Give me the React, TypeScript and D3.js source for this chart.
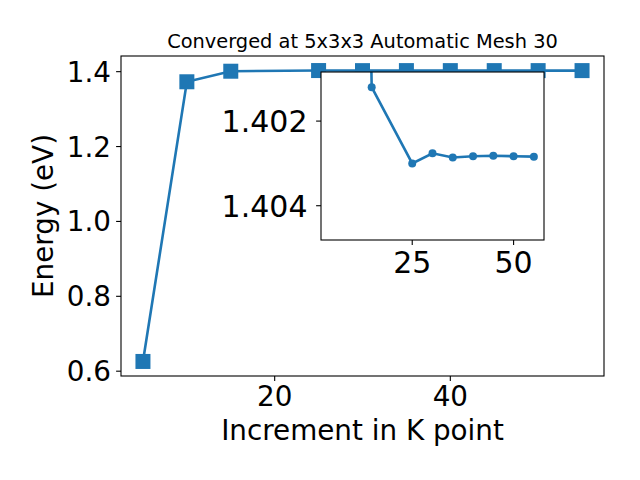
import React from "react";
import * as d3 from "d3";

// k-point increments and the converged energies
const kPoints = [5, 10, 15, 25, 30, 35, 40, 45, 50, 55];
const energies = [0.626, 1.373, 1.4012, 1.403, 1.40276, 1.40286, 1.40283, 1.40282, 1.40283, 1.40284];
const mainYTicks = [0.6, 0.8, 1.0, 1.2, 1.4];
const mainXTicks = [20, 40];
const insetYTicks = [1.402, 1.404];
const insetXTicks = [25, 50];
const insetYLimits = [1.40084, 1.40481];

const W = 640;
const H = 480;
const blue = "#1f77b4";
const font = "DejaVu Sans, sans-serif";
const tickFont = 27.8;
const insetFont = 30;

// main axes box
const mL = 121, mR = 604, mT = 56, mB = 376;
// inset axes box
const iL = 321, iR = 544, iT = 72, iB = 240;

const pad = (ext: [number, number]) => {
  const m = (ext[1] - ext[0]) * 0.05;
  return [ext[0] - m, ext[1] + m];
};

const App = () => {
  const xDom = pad(d3.extent(kPoints) as [number, number]);
  const yDom = pad(d3.extent(energies) as [number, number]);

  const x = d3.scaleLinear().domain(xDom).range([mL, mR]);
  const y = d3.scaleLinear().domain(yDom).range([mB, mT]);

  const xi = d3.scaleLinear().domain(xDom).range([iL, iR]);
  // inverted axis: smaller energies on top
  const yi = d3.scaleLinear().domain(insetYLimits).range([iT, iB]);

  const pts = kPoints.map((k, i) => [k, energies[i]] as [number, number]);

  const mainLine = d3.line<[number, number]>().x(d => x(d[0])).y(d => y(d[1]));
  const insetLine = d3.line<[number, number]>().x(d => xi(d[0])).y(d => yi(d[1]));

  const sq = 15;

  return (
    <svg width={W} height={H} style={{ position: "absolute", left: 0, top: 0, background: "#fff" }}
      fontFamily={font}>
      <defs>
        <clipPath id="insetClip">
          <rect x={iL} y={iT} width={iR - iL} height={iB - iT} />
        </clipPath>
      </defs>

      {/* main axes */}
      <path d={mainLine(pts) || ""} fill="none" stroke={blue} strokeWidth={2.6} />
      {pts.map((d, i) => (
        <rect key={i} x={x(d[0]) - sq / 2} y={y(d[1]) - sq / 2} width={sq} height={sq} fill={blue} />
      ))}
      <rect x={mL} y={mT} width={mR - mL} height={mB - mT} fill="none" stroke="#000" strokeWidth={1.1} />

      {mainXTicks.map(t => (
        <g key={t}>
          <line x1={x(t)} x2={x(t)} y1={mB} y2={mB + 4.9} stroke="#000" strokeWidth={1.1} />
          <text x={x(t)} y={405.5} fontSize={tickFont} textAnchor="middle">{d3.format("d")(t)}</text>
        </g>
      ))}
      {mainYTicks.map(t => (
        <g key={t}>
          <line x1={mL - 4.9} x2={mL} y1={y(t)} y2={y(t)} stroke="#000" strokeWidth={1.1} />
          <text x={mL - 10} y={y(t)} dy="0.36em" fontSize={tickFont} textAnchor="end">{d3.format(".1f")(t)}</text>
        </g>
      ))}

      <text x={(mL + mR) / 2} y={48} fontSize={19.4} textAnchor="middle">Converged at 5x3x3 Automatic Mesh 30</text>
      <text x={(mL + mR) / 2} y={440} fontSize={tickFont} textAnchor="middle">Increment in K point</text>
      <text transform={`translate(53,${(mT + mB) / 2}) rotate(-90)`} fontSize={tickFont} textAnchor="middle">Energy (eV)</text>

      {/* inset axes */}
      <rect x={iL} y={iT} width={iR - iL} height={iB - iT} fill="#fff" />
      <g clipPath="url(#insetClip)">
        <path d={insetLine(pts) || ""} fill="none" stroke={blue} strokeWidth={2.6} />
        {pts.map((d, i) => (
          <circle key={i} cx={xi(d[0])} cy={yi(d[1])} r={4} fill={blue} />
        ))}
      </g>
      <rect x={iL} y={iT} width={iR - iL} height={iB - iT} fill="none" stroke="#000" strokeWidth={1.1} />
      {insetXTicks.map(t => (
        <g key={t}>
          <line x1={xi(t)} x2={xi(t)} y1={iB} y2={iB + 4.9} stroke="#000" strokeWidth={1.1} />
          <text x={xi(t)} y={273} fontSize={insetFont} textAnchor="middle">{d3.format("d")(t)}</text>
        </g>
      ))}
      {insetYTicks.map(t => (
        <g key={t}>
          <line x1={iL - 4.9} x2={iL} y1={yi(t)} y2={yi(t)} stroke="#000" strokeWidth={1.1} />
          <text x={307.5} y={yi(t)} dy="0.36em" fontSize={insetFont} textAnchor="end">{d3.format(".3f")(t)}</text>
        </g>
      ))}
    </svg>
  );
};

export default App;
